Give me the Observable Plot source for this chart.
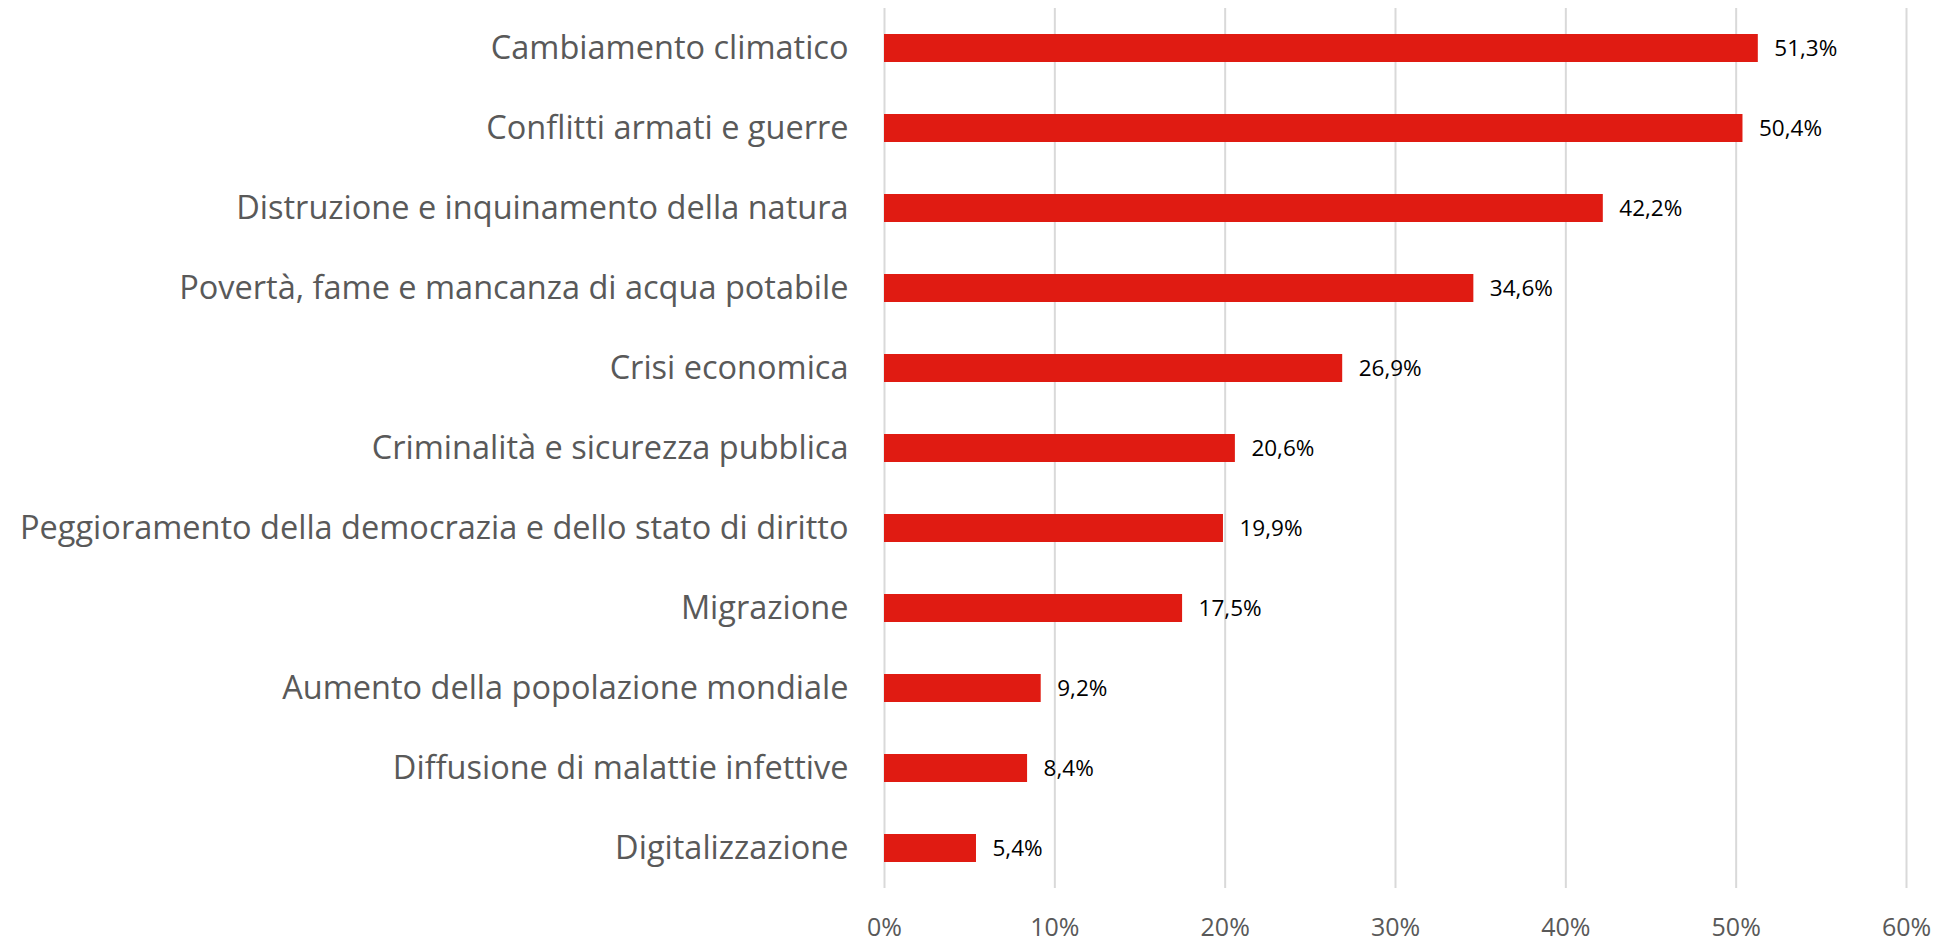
<!DOCTYPE html>
<html>
<head>
<meta charset="utf-8">
<script src="https://cdn.jsdelivr.net/npm/d3@7"></script>
<script src="https://cdn.jsdelivr.net/npm/@observablehq/plot@0.6"></script>
<style>
  html, body { margin: 0; padding: 0; background: #fff; }
  svg { display: block; }
</style>
</head>
<body>
<div id="chart"></div>
<script>
const categories = [
  "Cambiamento climatico",
  "Conflitti armati e guerre",
  "Distruzione e inquinamento della natura",
  "Povertà, fame e mancanza di acqua potabile",
  "Crisi economica",
  "Criminalità e sicurezza pubblica",
  "Peggioramento della democrazia e dello stato di diritto",
  "Migrazione",
  "Aumento della popolazione mondiale",
  "Diffusione di malattie infettive",
  "Digitalizzazione"
];
const values = [51.3, 50.4, 42.2, 34.6, 26.9, 20.6, 19.9, 17.5, 9.2, 8.4, 5.4];
const xTicks = [0, 10, 20, 30, 40, 50, 60];

const data = categories.map((c, i) => ({category: c, value: values[i]}));
const fmt = v => v.toFixed(1).replace(".", ",") + "%";

const chart = Plot.plot({
  width: 1952,
  height: 942,
  marginLeft: 884,
  marginRight: 46,
  marginTop: 8,
  marginBottom: 54,
  style: {fontFamily: "'Open Sans', sans-serif", background: "#fff"},
  x: {domain: [0, 60], ticks: xTicks},
  y: {domain: categories, paddingInner: 0.65, paddingOuter: 0.325, label: null},
  marks: [
    Plot.gridX(xTicks, {stroke: "#d9d9d9", strokeOpacity: 1, strokeWidth: 2}),
    Plot.axisX({ticks: xTicks, tickSize: 0, tickPadding: 30, tickFormat: d => d + "%", fontSize: 25, fill: "#595959", label: null}),
    Plot.axisY({tickSize: 0, tickPadding: 36, fontSize: 32.5, fill: "#595959", label: null}),
    Plot.barX(data, {x: "value", y: "category", fill: "#e01b12"}),
    Plot.text(data, {x: "value", y: "category", text: d => fmt(d.value), dx: 16, textAnchor: "start", fontSize: 22.5, fill: "#000"})
  ]
});
document.getElementById("chart").appendChild(chart);
</script>
</body>
</html>
